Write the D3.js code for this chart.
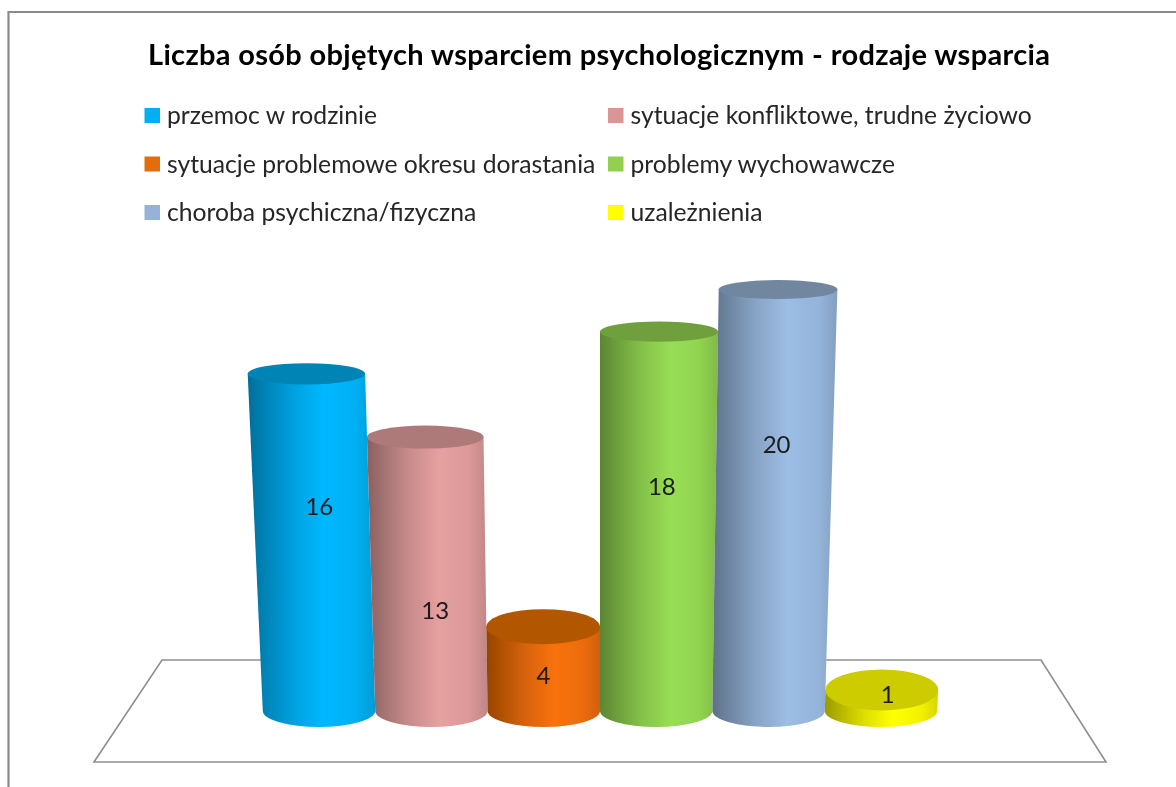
<!DOCTYPE html>
<html lang="pl">
<head>
<meta charset="utf-8">
<script src="https://cdn.jsdelivr.net/npm/d3@7/dist/d3.min.js"></script>
<style>
html,body{margin:0;padding:0;background:#fff;overflow:hidden}
text{font-family:Lato,"Open Sans",sans-serif}
</style>
</head>
<body>
<svg id="chart" width="1176" height="787"></svg>
<script>
const titleText = "Liczba osób objętych wsparciem psychologicznym - rodzaje wsparcia";
const categories = ["przemoc w rodzinie","sytuacje konfliktowe, trudne życiowo","sytuacje problemowe okresu dorastania","problemy wychowawcze","choroba psychiczna/fizyczna","uzależnienia"];
const values = [16,13,4,18,20,1];
const legendColors = ["#00B0F0","#D99694","#E36C09","#92D050","#95B3D7","#FFFF00"];
const sideColors = ["#00B8FF","#E6A0A0","#F87208","#98DE54","#9CBDE4","#FFFF00"];
const topColors = ["#0083B5","#AD7A79","#B35606","#6FA03C","#6F879F","#CCCC00"];

// hand-placed data labels, as in the reference (position in value units / px from bar centre)
const labelLevels = [9.7,4.75,1.65,10.65,12.6,0.75];
const labelShifts = [8,6,0,4,2,6];

const W=1176,H=787;
const svg=d3.select("#chart");
const defs=svg.append("defs");
defs.append("filter").attr("id","soft").attr("x","-5%").attr("y","-5%").attr("width","110%").attr("height","110%")
  .append("feGaussianBlur").attr("stdDeviation",0.5);
const root=svg.append("g");
root.append("rect").attr("width",W).attr("height",H).attr("fill","#fff");
const g=root.append("g").attr("filter","url(#soft)");

// frame: only the top and left edges fall inside the picture
g.append("path").attr("d",d3.line()([[8.5,H+20],[8.5,12],[W+20,12]]))
  .attr("fill","none").attr("stroke","#8a8a8a").attr("stroke-width",2.2);

// title
g.append("text").attr("x",148).attr("y",65)
  .attr("font-size",29).attr("font-weight",700).attr("fill","#000")
  .attr("textLength",902).attr("lengthAdjust","spacing").text(titleText);

// legend
const legendCol=d3.scaleOrdinal().domain([0,1]).range([144.5,608]);
const legendRow=d3.scalePoint().domain([0,1,2]).range([108,205]);
const leg=g.selectAll("g.leg").data(categories).join("g").attr("class","leg")
  .attr("transform",(d,i)=>`translate(${legendCol(i%2)},${legendRow(Math.floor(i/2))})`);
leg.append("rect").attr("width",15.5).attr("height",15).attr("fill",(d,i)=>legendColors[i]);
leg.append("text").attr("x",22.5).attr("y",16).attr("font-size",24.7).attr("fill","#262626").text(d=>d);

// floor
g.append("path").attr("d",d3.line()([[162,660],[1041,660],[1106,762],[94,762]])+"Z")
  .attr("fill","none").attr("stroke","#8e8e8e").attr("stroke-width",1.6);

// scales
const x=d3.scaleBand().domain(d3.range(categories.length)).range([262.8,937.2]);
const y=d3.scaleLinear().domain([0,20]).range([711,289.5]);
const vanishX=600, persp=0.0028;
const widen=v=>1+persp*v;
const px=(i,v)=>vanishX+(x(i)+x.bandwidth()/2-vanishX)*widen(v);
const rx=v=>x.bandwidth()/2*widen(v);
const baseRy=16;
const topRy=d3.scaleLinear().domain([1,4,13,20]).range([20.5,17.5,11.5,9.5]);

// side shading
const stops=[[0,.6],[.12,.7],[.35,.87],[.6,1],[.85,.95],[1,.84]];
const grad=defs.selectAll("linearGradient").data(sideColors).join("linearGradient")
  .attr("id",(d,i)=>"side"+i).attr("x1",0).attr("x2",1).attr("y1",0).attr("y2",0);
grad.selectAll("stop").data(c=>stops.map(s=>{const r=d3.rgb(c);return {o:s[0],c:d3.rgb(r.r*s[1],r.g*s[1],r.b*s[1]).formatHex()};}))
  .join("stop").attr("offset",d=>d.o).attr("stop-color",d=>d.c);

// cylinders
const bars=g.selectAll("g.bar").data(values).join("g").attr("class","bar");
bars.append("path").attr("fill",(d,i)=>`url(#side${i})`)
  .attr("d",(v,i)=>{
    const tx=px(i,v),bx=px(i,0),tr=rx(v),br=rx(0),ty=y(v),by=y(0);
    return `M${tx-tr},${ty}L${bx-br},${by}A${br},${baseRy} 0 0 0 ${bx+br},${by}L${tx+tr},${ty}Z`;
  });
bars.append("ellipse").attr("fill",(d,i)=>topColors[i])
  .attr("cx",(v,i)=>px(i,v)).attr("cy",v=>y(v)).attr("rx",v=>rx(v)).attr("ry",v=>topRy(v));

// data labels
g.selectAll("text.val").data(values).join("text").attr("class","val")
  .attr("x",(v,i)=>px(i,labelLevels[i])+labelShifts[i])
  .attr("y",(v,i)=>y(labelLevels[i])+8)
  .attr("text-anchor","middle").attr("font-size",24).attr("fill","#1a1a1a").text(d=>d);
</script>
</body>
</html>
